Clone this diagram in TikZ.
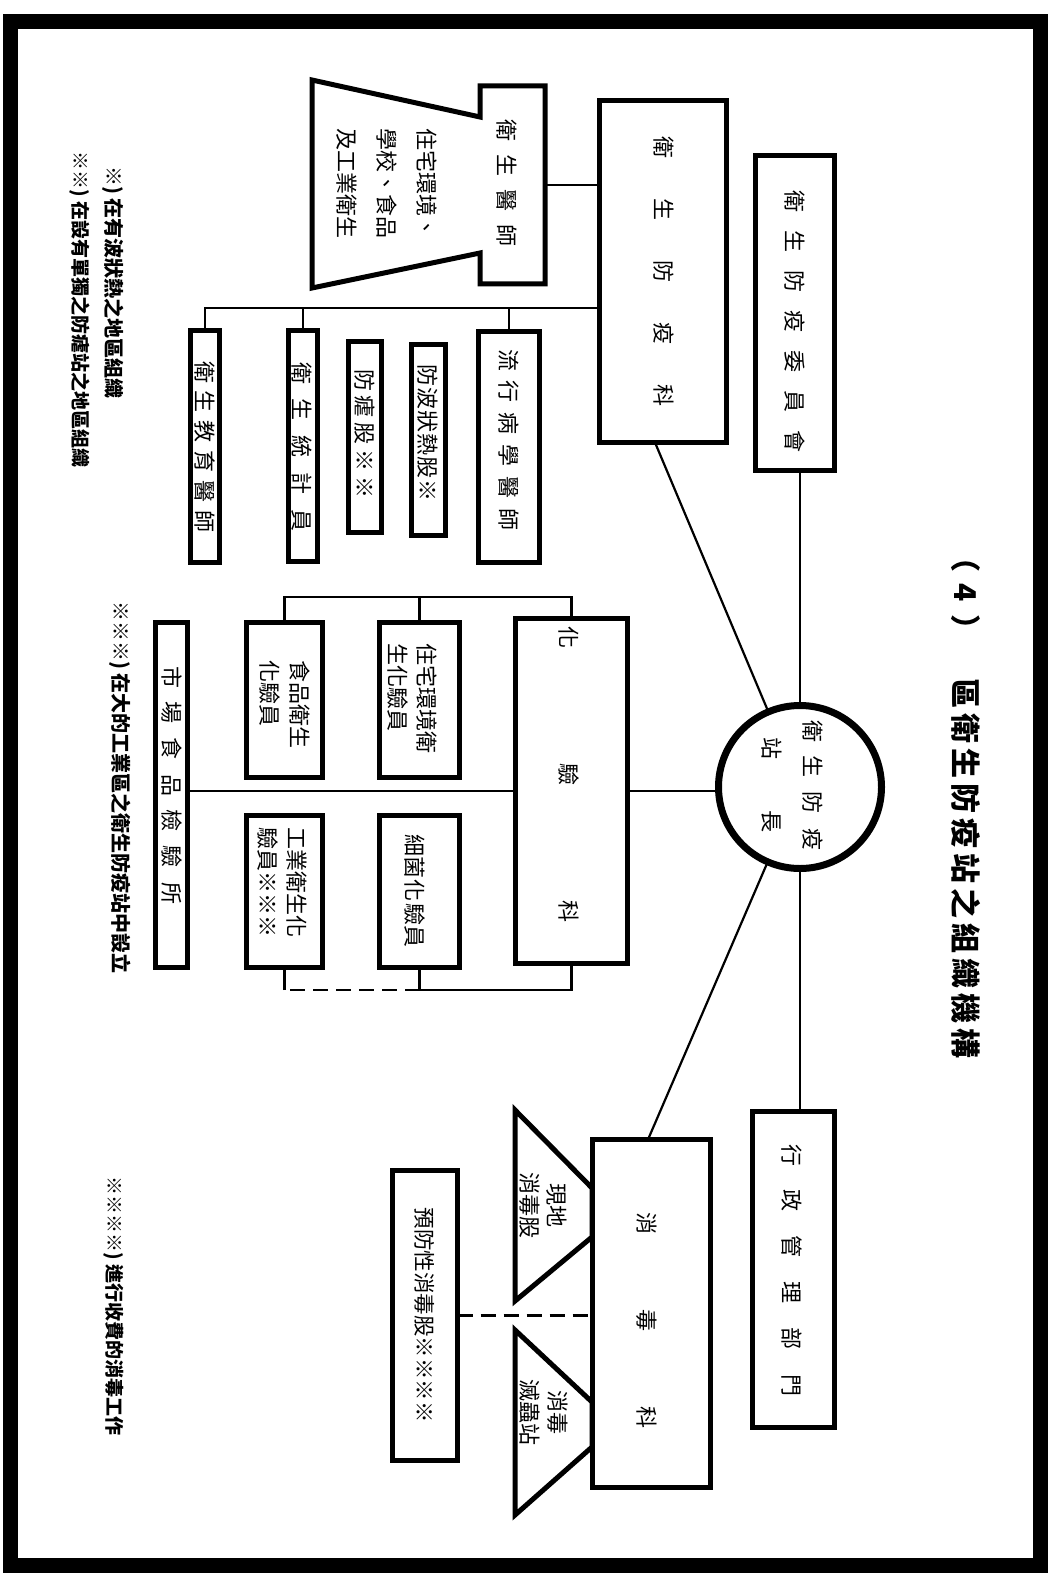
\documentclass[tikz,border=0pt]{standalone}
\usepackage{fontspec}
\setmainfont{Noto Sans CJK TC}
\usetikzlibrary{calc}
\makeatletter
\def\gc@gap{0pt}
\newcommand\gapchars[2]{\def\gc@gap{#1}\gc@loop#2\gc@end}
\def\gc@loop#1#2\gc@end{#1\ifx\relax#2\relax\else\hspace{\gc@gap}\gc@loop#2\gc@end\fi}
\makeatother
\begin{document}
\begin{tikzpicture}[x=1pt,y=-1pt,line join=miter,
  bx/.style={draw,line width=5pt,inner sep=0pt,outer sep=0pt},
  conn/.style={line width=2.2pt},
  dsh/.style={line width=2.2pt,dash pattern=on 15pt off 8pt},
  lab/.style={rotate=-90,inner sep=0pt,font=\fontsize{22}{28}\selectfont},
  note/.style={rotate=-90,inner sep=0pt,anchor=west,font=\bfseries\fontsize{20}{24}\selectfont}]
\useasboundingbox (0,0) rectangle (1053,1578);
% frame
\draw[line width=15pt] (10.5,22) rectangle (1040.5,1565.5);
% title
\node[rotate=-90,anchor=west,inner sep=0pt,font=\bfseries\fontsize{30}{36}\selectfont] (title) at (966,678) {\gapchars{5pt}{區衛生防疫站之組織機構}};
\node[rotate=-90,anchor=west,inner sep=0pt,font=\bfseries\fontsize{30}{36}\selectfont] (num) at (966,542) {（\hspace{11pt}4\hspace{13pt}）};
% footnotes
\node[note] (n1) at (113,166) {※) 在有波狀熱之地區組織};
\node[note,font=\bfseries\fontsize{19}{22}\selectfont] (n2) at (80,151) {※※) 在設有單獨之防瘧站之地區組織};
\node[note] (n3) at (120,601) {※※※) 在大的工業區之衛生防疫站中設立};
\node[note,font=\bfseries\fontsize{19}{22}\selectfont] (n4) at (114,1176) {※※※※) 進行收費的消毒工作};
% circle
\node[circle,draw,line width=7pt,minimum size=163pt,inner sep=0pt,outer sep=0pt] (zz) at (800,787) {};
\node[lab,align=center,font=\fontsize{22}{41}\selectfont] (zz-t) at (792.5,785) {\gapchars{14pt}{衛生防疫}\\\gapchars{52pt}{站長}};
% upper right
\node[bx,minimum width=79pt,minimum height=315pt] (wyh) at (795,313) {};
\node[lab] (wyh-t) at (795,322) {\gapchars{18pt}{衛生防疫委員會}};
\node[bx,minimum width=127pt,minimum height=342pt] (fyk) at (663,271.5) {};
\node[lab] (fyk-t) at (664,272) {\gapchars{40pt}{衛生防疫科}};
% sanitary doctor shape
\draw[line width=5pt] (312,80) -- (480,117) -- (480,86) -- (545,86) -- (545,284) -- (480,284) -- (480,253) -- (312,288) -- cycle;
\node[minimum width=65pt,minimum height=198pt,inner sep=0pt,outer sep=0pt] (wsys) at (512.5,185) {};
\node[lab] (wsys-t) at (507,183) {\gapchars{13pt}{衛生醫師}};
\node[lab,align=left,font=\fontsize{22}{40}\selectfont] (wsys-d) at (387,184) {住宅環境、\\學校、食品\\及工業衛生};
% sections under 衛生防疫科
\node[bx,minimum width=61pt,minimum height=231pt] (lxb) at (509,447) {};
\node[lab] (lxb-t) at (509,440) {\gapchars{10pt}{流行病學醫師}};
\node[bx,minimum width=34pt,minimum height=191pt] (bzr) at (428.5,440) {};
\node[lab] (bzr-t) at (428,433) {\gapchars{1pt}{防波狀熱股※}};
\node[bx,minimum width=33pt,minimum height=191pt] (fn) at (365,437) {};
\node[lab] (fn-t) at (365,434) {\gapchars{5pt}{防瘧股※※}};
\node[bx,minimum width=29pt,minimum height=231pt] (tjy) at (303,446) {};
\node[lab] (tjy-t) at (302,447) {\gapchars{15pt}{衛生統計員}};
\node[bx,minimum width=29pt,minimum height=232pt] (jyys) at (205,446.5) {};
\node[lab] (jyys-t) at (205,447) {\gapchars{8pt}{衛生教育醫師}};
% laboratory
\node[bx,minimum width=112pt,minimum height=345pt] (hyk) at (571.5,791) {};
\node[lab] (hyk-t) at (569,774) {\gapchars{115pt}{化驗科}};
\node[bx,minimum width=80pt,minimum height=155pt] (zzhj) at (419.5,700) {};
\node[lab,align=left,font=\fontsize{22}{29}\selectfont] (zzhj-t) at (412.5,698) {住宅環境衛\\生化驗員};
\node[bx,minimum width=76pt,minimum height=155pt] (spws) at (284.5,700) {};
\node[lab,align=left,font=\fontsize{22}{30}\selectfont] (spws-t) at (285,704) {食品衛生\\化驗員};
\node[bx,minimum width=80pt,minimum height=152pt] (xj) at (419.5,891.5) {};
\node[lab] (xj-t) at (415,891) {\gapchars{1pt}{細菌化驗員}};
\node[bx,minimum width=76pt,minimum height=152pt] (gyws) at (284.5,891.5) {};
\node[lab,align=left,font=\fontsize{22}{29}\selectfont] (gyws-t) at (282.5,882) {工業衛生化\\驗員※※※};
\node[bx,minimum width=32pt,minimum height=345pt] (scsp) at (171.5,795) {};
\node[lab] (scsp-t) at (172,785) {\gapchars{14pt}{市場食品檢驗所}};
% lower right
\node[bx,minimum width=82pt,minimum height=316pt] (xzgl) at (793.5,1269.5) {};
\node[lab] (xzgl-t) at (792,1270) {\gapchars{24pt}{行政管理部門}};
\node[bx,minimum width=118pt,minimum height=348pt] (xdk) at (651.5,1313.5) {};
\node[lab] (xdk-t) at (647,1320) {\gapchars{75pt}{消毒科}};
\draw[line width=5pt] (515,1110) -- (592,1188) -- (592,1237) -- (515,1301) -- cycle;
\node[lab,align=center,font=\fontsize{22}{27}\selectfont] (xd1-t) at (543.5,1205) {現地\\消毒股};
\draw[line width=5pt] (515,1330) -- (592,1402) -- (592,1447) -- (515,1515) -- cycle;
\node[lab,align=center,font=\fontsize{22}{28}\selectfont] (xd2-t) at (544,1412) {消毒\\滅蟲站};
\node[bx,minimum width=65pt,minimum height=290pt] (yfx) at (425,1315.5) {};
\node[lab,font=\fontsize{21.5}{26}\selectfont] (yfx-t) at (425,1315) {預防性消毒股※※※※};
% connectors
\coordinate (ub) at (0,308);
\draw[conn] (jyys.north) -- (jyys.north |- ub) -- (fyk.west |- ub);
\draw[conn] (tjy.north) -- (tjy.north |- ub);
\draw[conn] (lxb.north) -- (lxb.north |- ub);
\draw[conn] (wsys.east) -- (wsys.east -| fyk.west);
\coordinate (fa) at (655,0);
\draw[conn] (fyk.south -| fa) -- (zz);
\coordinate (xa) at (648,0);
\draw[conn] (xdk.north -| xa) -- (zz);
\draw[conn] (zz.north) -- (zz.north |- wyh.south);
\draw[conn] (zz.south) -- (zz.south |- xzgl.north);
\draw[conn] (hyk.east) -- (hyk.east -| zz.west);
\draw[conn] (hyk.west) -- (hyk.west -| scsp.east);
\coordinate (tb) at (0,597);
\draw[conn] (spws.north) -- (spws.north |- tb) -- (hyk.north |- tb) -- (hyk.north);
\draw[conn] (zzhj.north) -- (zzhj.north |- tb);
\coordinate (bb) at (0,990);
\draw[conn] (hyk.south) -- (hyk.south |- bb) -- (xj.south |- bb) -- (xj.south);
\draw[dsh] (xj.south |- bb) -- (gyws.south |- bb);
\draw[conn] (gyws.south |- bb) -- (gyws.south);
\draw[dsh] (yfx.east) -- (yfx.east -| xdk.west);
\end{tikzpicture}
\end{document}
